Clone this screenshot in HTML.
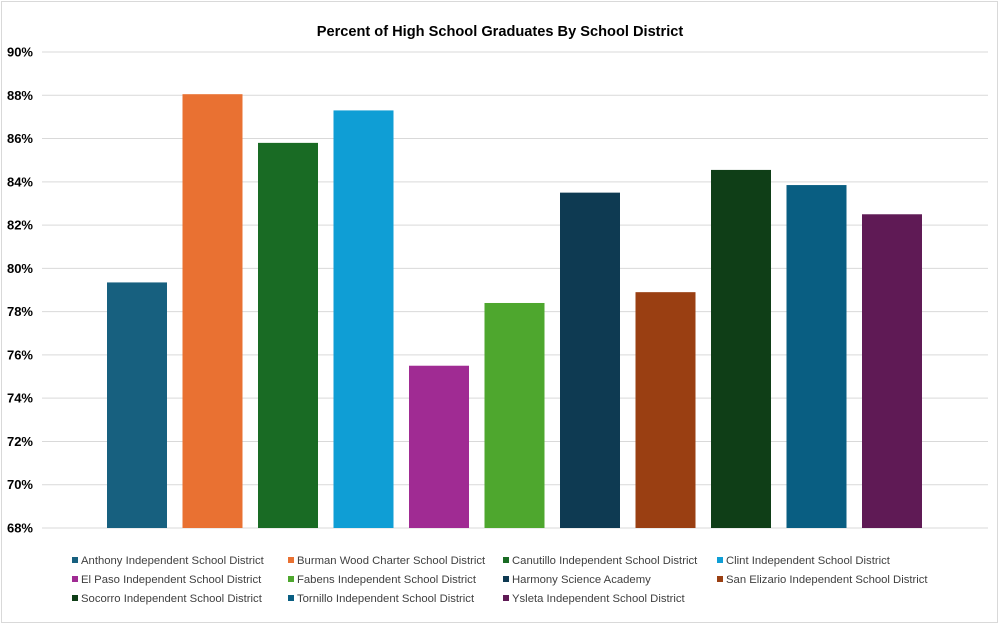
<!DOCTYPE html>
<html><head><meta charset="utf-8"><style>
body{margin:0;background:#fff;font-family:"Liberation Sans",Arial,sans-serif}
#c{position:relative;width:1000px;height:624px;overflow:hidden}
.leg{position:absolute;font-size:11.3px;color:#404040;white-space:nowrap;line-height:14px}
.leg i{display:inline-block;width:6px;height:6px;margin-right:3px;vertical-align:1px}
</style></head><body>
<div id="c">
<svg id="s" width="1000" height="624">
<rect x="1.5" y="1.5" width="996" height="621" fill="none" stroke="#d9d9d9"/>
<text x="500" y="36" text-anchor="middle" font-size="14.6" font-weight="bold" fill="#000" font-family="Liberation Sans,Arial,sans-serif">Percent of High School Graduates By School District</text>
<g id="grid"></g><g id="bars"></g>
</svg>
<div id="legend"></div>
</div>
<script>
const categories=["Anthony Independent School District","Burman Wood Charter School District","Canutillo Independent School District","Clint Independent School District","El Paso Independent School District","Fabens Independent School District","Harmony Science Academy","San Elizario Independent School District","Socorro Independent School District","Tornillo Independent School District","Ysleta Independent School District"];
const values=[79.35,88.05,85.8,87.3,75.5,78.4,83.5,78.9,84.55,83.85,82.5];
const colors=["#17607f","#e97132","#196b24","#0f9ed5","#a02b93","#4ea72e","#0e3a52","#9a3f12","#0f3e17","#095e82","#5f1a55"];
const ticks=[68,70,72,74,76,78,80,82,84,86,88,90];
const NS="http://www.w3.org/2000/svg";
const y=v=>528-(v-68)*(476/22);
const xc=i=>137+i*75.5;
const g=document.getElementById('grid'),b=document.getElementById('bars');
ticks.forEach(t=>{
 const l=document.createElementNS(NS,'line');
 l.setAttribute('x1',42);l.setAttribute('x2',988);l.setAttribute('y1',y(t));l.setAttribute('y2',y(t));
 l.setAttribute('stroke','#d9d9d9');
 
 
 g.appendChild(l);
 const tx=document.createElementNS(NS,'text');
 tx.setAttribute('x',33);tx.setAttribute('y',y(t)+4.5);tx.setAttribute('text-anchor','end');
 tx.setAttribute('font-size','13');tx.setAttribute('font-weight','bold');tx.setAttribute('fill','#000');
 tx.setAttribute('font-family','Liberation Sans,Arial,sans-serif');
 tx.textContent=t+'%';
 
 
 g.appendChild(tx);
});
values.forEach((v,i)=>{
 const r=document.createElementNS(NS,'rect');
 r.setAttribute('x',xc(i)-30);r.setAttribute('width',60);
 r.setAttribute('y',y(v));r.setAttribute('height',528-y(v));
 r.setAttribute('fill',colors[i]);
 
 
 b.appendChild(r);
});
const L=document.getElementById('legend');
const cols=[72,288,503,717],rows=[554,573,592];
categories.forEach((c,i)=>{
 const d=document.createElement('div');d.className='leg';
 d.style.left=cols[i%4]+'px';d.style.top=rows[Math.floor(i/4)]+'px';
 d.innerHTML='<i style="background:'+colors[i]+'"></i>'+c;
 
 
 L.appendChild(d);
});
</script>
</body></html>
